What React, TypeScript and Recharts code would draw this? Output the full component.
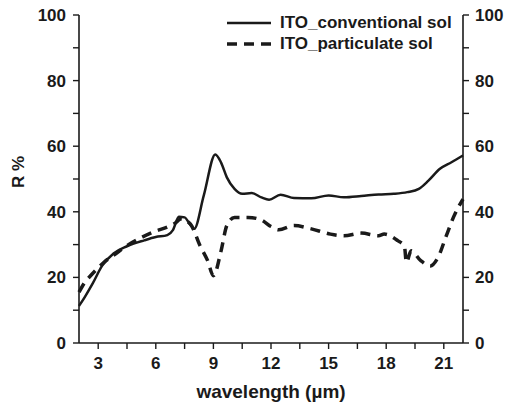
import React from 'react';
import { LineChart, Line, XAxis, YAxis, Legend, Label } from 'recharts';

// ITO_conventional sol (solid)
const convWavelength = [
  2.0, 2.3, 2.7, 3.2, 3.8, 4.5, 5.4, 6.0, 6.6, 6.9, 7.2, 7.5, 7.8, 8.0, 8.5, 9.1, 9.4, 9.7,
  10.1, 10.5, 11.0, 11.5, 11.9, 12.5, 13.2, 14.1, 15.0, 15.8, 16.7, 17.6, 18.4, 19.1, 19.7,
  20.2, 20.8, 21.4, 22.0,
];
const convR = [
  11.3, 14, 18, 23.5, 27.3, 29.5, 31.3, 32.3, 32.9, 34.5, 38.5, 38.3, 36.0, 34.8, 45, 57.5, 55,
  50.5, 47, 45.5, 45.7, 44.4, 43.7, 45.2, 44.2, 44.1, 45.0, 44.4, 44.8, 45.3, 45.5, 46.0, 47.0,
  49.5, 53.1, 55.1, 57.2,
];

// ITO_particulate sol (dashed)
const partWavelength = [
  2.0, 2.3, 2.6, 3.3, 4.0, 4.5, 5.2, 5.9, 6.7, 7.0, 7.3, 7.8, 8.3, 8.7, 9.0, 9.4, 9.7, 10.1,
  10.8, 11.5, 12.0, 12.4, 13.2, 14.1, 15.1, 15.8, 16.7, 17.6, 17.9, 18.6, 18.95, 19.05, 19.3,
  19.8, 20.3, 20.7, 21.1, 21.5, 22.0,
];
const partR = [
  15.5, 18.5, 20.5, 24.6, 27.6, 29.7, 32.0, 33.9, 35.6, 36.5, 37.8, 36.3, 29.7, 25.1, 20.5,
  28.1, 35.8, 38.3, 38.3, 37.5, 35.5, 34.5, 35.8, 34.8, 33.2, 32.7, 33.5, 32.7, 33.2, 31.2,
  29.5, 24.6, 28.1, 25.1, 23.5, 26.1, 32.2, 38.3, 43.9,
];

// minor ticks sit between the labelled ones
const xTicks = [3, 4.5, 6, 7.5, 9, 10.5, 12, 13.5, 15, 16.5, 18, 19.5, 21];
const yTicks = [0, 10, 20, 30, 40, 50, 60, 70, 80, 90, 100];

const convData = convWavelength.map((w, i) => ({ w, r: convR[i] }));
const partData = partWavelength.map((w, i) => ({ w, r: partR[i] }));

const FONT = '"Liberation Sans", Arial, sans-serif';
const INK = '#1a1a1a';
const tickStyle = { fontSize: 17, fontWeight: 700, fill: INK, fontFamily: FONT };
const axisLineStyle = { stroke: INK, strokeWidth: 1.6 };
const tickLineStyle = { stroke: INK, strokeWidth: 1.4 };

const xLabel = (v: number) => (v % 3 === 0 ? String(v) : '');
const yLabel = (v: number) => (v % 20 === 0 ? String(v) : '');

function LegendBox() {
  const rows = [
    { name: 'ITO_conventional sol', dash: undefined },
    { name: 'ITO_particulate sol', dash: '10 7' },
  ];
  return (
    <div style={{ fontFamily: FONT, fontWeight: 700, fontSize: 17, color: INK, lineHeight: '20px' }}>
      {rows.map((r) => (
        <div key={r.name} style={{ display: 'flex', alignItems: 'center', height: 21 }}>
          <svg width={44} height={8} style={{ marginRight: 9, display: 'block' }}>
            <line x1={0} y1={4} x2={44} y2={4} stroke={INK} strokeWidth={r.dash ? 3.5 : 2.5} strokeDasharray={r.dash} />
          </svg>
          <span>{r.name}</span>
        </div>
      ))}
    </div>
  );
}

export default function App() {
  return (
    <div style={{ position: 'absolute', left: 0, top: 0, background: '#fff' }}>
      <LineChart width={507} height={405} margin={{ top: 15, right: 0, bottom: 0, left: 0 }}>
        <XAxis
          dataKey="w"
          type="number"
          domain={[2, 22]}
          ticks={xTicks}
          interval={0}
          tickFormatter={xLabel}
          tick={tickStyle}
          tickSize={6}
          tickMargin={8}
          height={62}
          axisLine={axisLineStyle}
          tickLine={tickLineStyle}
        >
          <Label
            value="wavelength (µm)"
            position="insideBottom"
            offset={7}
            style={{ fontSize: 19, fontWeight: 700, fill: INK, fontFamily: FONT }}
          />
        </XAxis>
        {/* grey frame line along the top */}
        <XAxis
          xAxisId="top"
          orientation="top"
          dataKey="w"
          type="number"
          domain={[2, 22]}
          height={0}
          tick={false}
          tickLine={false}
          axisLine={{ stroke: '#808080', strokeWidth: 1.6 }}
        />
        <YAxis
          yAxisId="left"
          type="number"
          domain={[0, 100]}
          ticks={yTicks}
          interval={0}
          tickFormatter={yLabel}
          tick={tickStyle}
          tickSize={6}
          tickMargin={7}
          width={79}
          axisLine={axisLineStyle}
          tickLine={tickLineStyle}
        >
          <Label
            content={(props: any) => {
              const vb = props.viewBox;
              const cx = vb.x + 18;
              const cy = vb.y + vb.height / 2 - 7;
              return (
                <text
                  x={cx}
                  y={cy}
                  transform={`rotate(-90 ${cx} ${cy})`}
                  textAnchor="middle"
                  dominantBaseline="central"
                  style={tickStyle}
                >
                  R %
                </text>
              );
            }}
          />
        </YAxis>
        <YAxis
          yAxisId="right"
          orientation="right"
          type="number"
          domain={[0, 100]}
          ticks={yTicks}
          interval={0}
          tickFormatter={yLabel}
          tick={tickStyle}
          tickSize={6}
          tickMargin={6}
          width={44}
          axisLine={axisLineStyle}
          tickLine={tickLineStyle}
        />
        <Legend
          layout="vertical"
          align="center"
          verticalAlign="middle"
          wrapperStyle={{ top: 12, left: 227, width: 250 }}
          content={() => <LegendBox />}
        />
        <Line
          yAxisId="left"
          data={convData}
          dataKey="r"
          name="ITO_conventional sol"
          type="monotone"
          stroke={INK}
          strokeWidth={2.5}
          dot={false}
          isAnimationActive={false}
        />
        <Line
          yAxisId="right"
          xAxisId="top"
          data={partData}
          dataKey="r"
          name="ITO_particulate sol"
          type="monotone"
          stroke={INK}
          strokeWidth={3.5}
          strokeDasharray="10 7"
          dot={false}
          isAnimationActive={false}
        />
      </LineChart>
    </div>
  );
}
